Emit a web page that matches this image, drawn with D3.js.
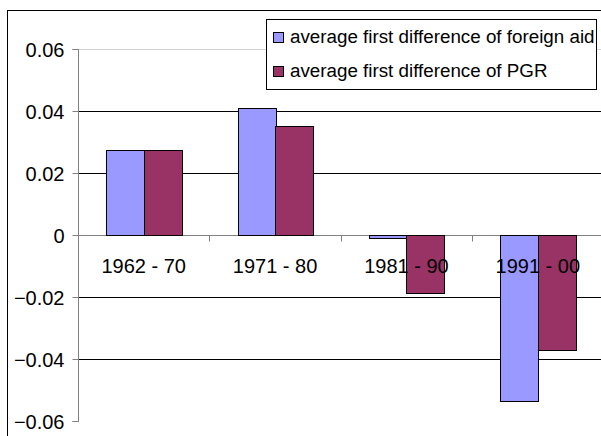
<!DOCTYPE html>
<html><head><meta charset="utf-8">
<script src="https://cdn.jsdelivr.net/npm/d3@7"></script>
<style>body{margin:0;background:#fff;overflow:hidden}svg{display:block;font-family:"Liberation Sans",Arial,sans-serif}</style>
</head><body><svg id="c" width="601" height="436"></svg>
<script>
const categories = ["1962 - 70", "1971 - 80", "1981 - 90", "1991 - 00"];
const seriesNames = ["average first difference of foreign aid", "average first difference of PGR"];
const aidValues = [0.0274, 0.0409, -0.0010, -0.0535];
const pgrValues = [0.0274, 0.0352, -0.0186, -0.0371];
const yTicks = [0.06, 0.04, 0.02, 0, -0.02, -0.04, -0.06];
const colors = ["#9999FF", "#993366"];

const svg = d3.select("#c");
const plotLeft = 78, plotRight = 603.5;
const y = d3.scaleLinear().domain([-0.06, 0.06]).range([421, 49]);
const x0 = d3.scaleBand().domain(categories).range([plotLeft, plotRight]).paddingInner(0).paddingOuter(0);
const x1 = d3.scaleBand().domain([0, 1]).range([0, x0.bandwidth()]).paddingOuter(0.75).paddingInner(0);

// outer frame
svg.append("rect").attr("x", 7.5).attr("y", 10.5).attr("width", 620).attr("height", 440)
  .attr("fill", "#fff").attr("stroke", "#000");

// gridlines
svg.append("g").selectAll("line").data(yTicks.filter(d => d !== 0 && d !== -0.06)).join("line")
  .attr("x1", plotLeft).attr("x2", 601)
  .attr("y1", d => Math.round(y(d)) + 0.5).attr("y2", d => Math.round(y(d)) + 0.5)
  .attr("stroke", d => d === 0.06 ? "#d4d4d4" : "#000");

// x axis at zero
const y0 = Math.round(y(0)) + 0.5;
svg.append("line").attr("x1", plotLeft).attr("x2", 601).attr("y1", y0).attr("y2", y0).attr("stroke", "#808080");
const bounds = categories.map(c => x0(c)).slice(1).concat([x0(categories[3]) + x0.bandwidth()]);
svg.append("g").selectAll("line").data(bounds).join("line")
  .attr("x1", d => Math.round(d) + 0.5).attr("x2", d => Math.round(d) + 0.5)
  .attr("y1", y0).attr("y2", y0 + 6).attr("stroke", "#808080");

// bars
const series = [aidValues, pgrValues];
const g = svg.append("g");
categories.forEach((c, i) => {
  series.forEach((vals, s) => {
    const v = vals[i];
    const xa = x0(c) + x1(s);
    const ya = y(Math.max(0, v)), yb = y(Math.min(0, v));
    g.append("rect")
      .attr("x", Math.round(xa) + 0.5).attr("y", Math.round(ya) + 0.5)
      .attr("width", Math.round(x1.bandwidth()))
      .attr("height", Math.max(1, Math.round(yb) - Math.round(ya)))
      .attr("fill", colors[s]).attr("stroke", "#000");
  });
});

// category labels (drawn on top of bars)
svg.append("g").selectAll("text").data(categories).join("text")
  .attr("x", d => x0(d) + x0.bandwidth() / 2).attr("y", 273)
  .attr("text-anchor", "middle").attr("font-size", 20).attr("fill", "#000").text(d => d);

// y axis
const yAxis = d3.axisLeft(y).tickValues(yTicks).tickSize(6).tickPadding(8)
  .tickFormat(d => d === 0 ? "0" : d3.format(".2f")(d));
const ya = svg.append("g").attr("transform", `translate(${plotLeft + 0.5},0)`).call(yAxis);
ya.select(".domain").attr("stroke", "#808080").attr("d", `M-6,${y(0.06)+0.5}H0V${y(-0.06)+0.5}H-6`);
ya.selectAll(".tick line").attr("stroke", "#808080");
ya.selectAll(".tick").attr("transform", d => `translate(0,${Math.round(y(d)) + 0.5})`);
ya.selectAll("text").attr("font-size", 20).attr("fill", "#000")
  .attr("font-family", "'Liberation Sans', Arial, sans-serif").attr("dy", "0.36em");

// legend
const lg = svg.append("g");
lg.append("rect").attr("x", 266.5).attr("y", 19.5).attr("width", 330).attr("height", 70)
  .attr("fill", "#fff").attr("stroke", "#000");
seriesNames.forEach((n, i) => {
  const cy = i === 0 ? 32.5 : 66.5;
  lg.append("rect").attr("x", 273.5).attr("y", cy).attr("width", 10).attr("height", 10)
    .attr("fill", colors[i]).attr("stroke", "#000");
  lg.append("text").attr("x", 290).attr("y", i === 0 ? 43 : 77)
    .attr("font-size", 18.8).attr("fill", "#000").text(n);
});
</script></body></html>
